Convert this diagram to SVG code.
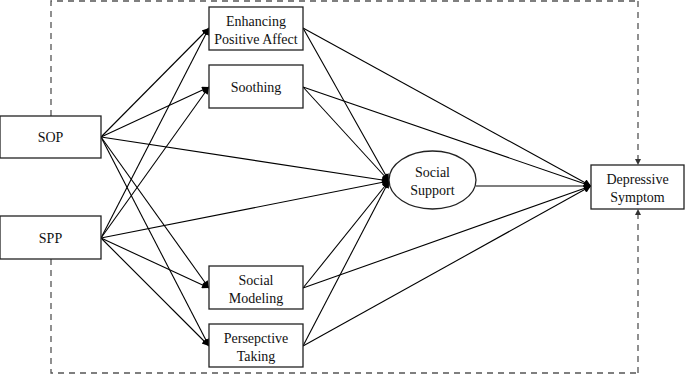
<svg xmlns="http://www.w3.org/2000/svg" width="685" height="375" viewBox="0 0 685 375">
<defs>
<style>
.box{fill:#fff;stroke:#222;stroke-width:1.3}
.t{font-family:"Liberation Serif","Times New Roman",serif;font-size:14px;fill:#111;text-anchor:middle}
.c{stroke:#000;stroke-width:1.1;fill:none;marker-end:url(#ah)}
.d{stroke:#555;stroke-width:1.3;fill:none;stroke-dasharray:6,5}
.dm{marker-end:url(#ah2)}
</style>
<marker id="ah" viewBox="0 0 10 10" refX="10" refY="5" markerWidth="9" markerHeight="7" markerUnits="userSpaceOnUse" orient="auto">
<path d="M0,0L10,5L0,10z" fill="#000"/>
</marker>
<marker id="ah2" viewBox="0 0 10 10" refX="10" refY="5" markerWidth="7" markerHeight="6" markerUnits="userSpaceOnUse" orient="auto">
<path d="M0,0L10,5L0,10z" fill="#333"/>
</marker>
</defs>
<g id="boundary">
<path class="d" d="M51,116V1H638"/>
<path class="d" d="M51,259V373H638"/>
<path class="d dm" d="M638,1V165"/>
<path class="d dm" d="M638,373V209"/>
</g>
<g id="connectors">
<line class="c" x1="101" y1="137" x2="209" y2="28"/>
<line class="c" x1="101" y1="137" x2="209" y2="87"/>
<line class="c" x1="101" y1="137" x2="209" y2="288"/>
<line class="c" x1="101" y1="137" x2="209" y2="346"/>
<line class="c" x1="101" y1="137" x2="389" y2="181"/>
<line class="c" x1="101" y1="238" x2="209" y2="28"/>
<line class="c" x1="101" y1="238" x2="209" y2="87"/>
<line class="c" x1="101" y1="238" x2="209" y2="288"/>
<line class="c" x1="101" y1="238" x2="209" y2="346"/>
<line class="c" x1="101" y1="238" x2="389" y2="181"/>
<line class="c" x1="303" y1="28" x2="389" y2="181"/>
<line class="c" x1="303" y1="87" x2="389" y2="181"/>
<line class="c" x1="303" y1="288" x2="389" y2="181"/>
<line class="c" x1="303" y1="346" x2="389" y2="181"/>
<line class="c" x1="303" y1="28" x2="591" y2="186"/>
<line class="c" x1="303" y1="87" x2="591" y2="186"/>
<line class="c" x1="476" y1="186" x2="591" y2="186"/>
<line class="c" x1="303" y1="288" x2="591" y2="186"/>
<line class="c" x1="303" y1="346" x2="591" y2="186"/>
</g>
<g id="sop">
<rect class="box" x="0" y="116" width="101" height="42"/>
<text class="t" x="50.5" y="142">SOP</text>
</g>
<g id="spp">
<rect class="box" x="0" y="216" width="101" height="43"/>
<text class="t" x="50.5" y="243">SPP</text>
</g>
<g id="enhancing">
<rect class="box" x="209" y="7" width="94" height="43"/>
<text class="t" x="256" y="26">Enhancing</text>
<text class="t" x="256" y="44">Positive Affect</text>
</g>
<g id="soothing">
<rect class="box" x="209" y="65" width="94" height="43"/>
<text class="t" x="256" y="92">Soothing</text>
</g>
<g id="modeling">
<rect class="box" x="209" y="266" width="94" height="43"/>
<text class="t" x="256" y="285">Social</text>
<text class="t" x="256" y="303">Modeling</text>
</g>
<g id="perspective">
<rect class="box" x="209" y="324" width="94" height="43"/>
<text class="t" x="256" y="343">Persepctive</text>
<text class="t" x="256" y="361">Taking</text>
</g>
<g id="support">
<ellipse class="box" cx="432.5" cy="180" rx="43.5" ry="29"/>
<text class="t" x="432.5" y="177">Social</text>
<text class="t" x="432.5" y="195">Support</text>
</g>
<g id="depressive">
<rect class="box" x="591" y="165" width="93" height="44"/>
<text class="t" x="637.5" y="184">Depressive</text>
<text class="t" x="637.5" y="202">Symptom</text>
</g>
</svg>
